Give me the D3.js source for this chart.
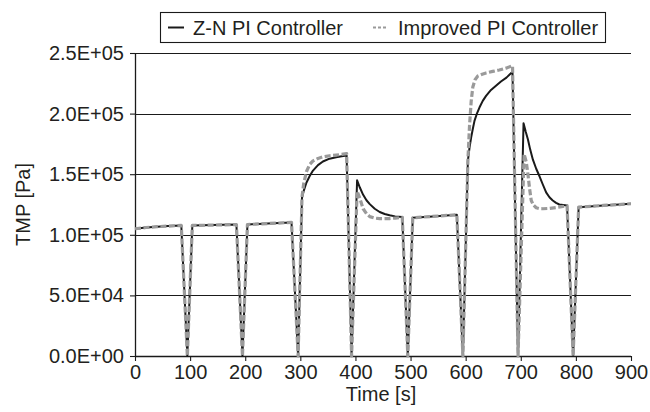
<!DOCTYPE html>
<html>
<head>
<meta charset="utf-8">
<script src="https://cdn.jsdelivr.net/npm/d3@7"></script>
<style>
  html, body { margin: 0; padding: 0; background: #fff; }
  svg { display: block; font-family: "Liberation Sans", Arial, sans-serif; }
</style>
</head>
<body>
<svg id="chart" width="650" height="412"></svg>
<script>
// Transmembrane pressure over time for two controller tunings.
// Each ~100 s filtration cycle ends with a short backwash where TMP falls to zero.

const seriesNames = ["Z-N PI Controller", "Improved PI Controller"];

const timeZN = [0, 20, 40, 60, 84, 95, 104, 140, 184, 195, 204, 240, 284, 296,
  303, 306, 311, 317, 323, 332, 341, 353, 365, 375, 384, 393,
  403, 408, 414, 420, 426, 435, 444, 453, 462, 472, 485, 495,
  504, 540, 584, 595,
  604, 607, 610, 613, 616, 620, 625, 631, 637, 646, 655, 664, 674, 685, 695,
  705, 709, 713, 717, 722, 728, 734, 740, 746, 752, 758, 764, 770, 784, 795,
  805, 850, 900];
const tmpZN = [105000, 106000, 106700, 107200, 107700, 0, 107700, 108000, 108500, 0, 108500, 109300, 110200, 0,
  130500, 136000, 143000, 148500, 153000, 157500, 160500, 162800, 164000, 164800, 165500, 0,
  145000, 139000, 133000, 128500, 125300, 121500, 118800, 117200, 116100, 115200, 114600, 0,
  114000, 115200, 116500, 0,
  161000, 172000, 180400, 187500, 194000, 199500, 205000, 210500, 214600, 219500, 223000, 226500, 229700, 234600, 0,
  192000, 185000, 178700, 170500, 162000, 154500, 148300, 141500, 135000, 131000, 128300, 126300, 125000, 124200, 0,
  122800, 124200, 125600];

const timeImp = [0, 20, 40, 60, 84, 95, 104, 140, 184, 195, 204, 240, 284, 296,
  303, 306, 311, 317, 323, 332, 341, 353, 365, 375, 384, 393,
  403, 408, 414, 420, 426, 435, 444, 462, 472, 485, 495,
  504, 540, 584, 595,
  604, 607, 610, 613, 617, 622, 630, 637, 649, 661, 673, 685, 695,
  706, 710, 713, 716, 719, 723, 728, 734, 740, 752, 764, 774, 784, 795,
  805, 850, 900];
const tmpImp = [105000, 106000, 106700, 107200, 107700, 0, 107700, 108000, 108500, 0, 108500, 109300, 110200, 0,
  131000, 142000, 152000, 158000, 161000, 163000, 164300, 165200, 165800, 166300, 167000, 0,
  136000, 130000, 121500, 117500, 115000, 113800, 113300, 113400, 113800, 114300, 0,
  114000, 115200, 116500, 0,
  161000, 190000, 210000, 222000, 228000, 231000, 232500, 233500, 234800, 236000, 237500, 239500, 0,
  166600, 160000, 150000, 138000, 128300, 124500, 122300, 121600, 121500, 121800, 122500, 123200, 124000, 0,
  122800, 124200, 125600];

const xTicks = [0, 100, 200, 300, 400, 500, 600, 700, 800, 900];
const yTicks = [0, 50000, 100000, 150000, 200000, 250000];
const yTickLabels = ["0.0E+00", "5.0E+04", "1.0E+05", "1.5E+05", "2.0E+05", "2.5E+05"];

const margin = { top: 53, right: 19, bottom: 56, left: 135 };
const W = 650, H = 412;
const innerW = W - margin.left - margin.right;
const innerH = H - margin.top - margin.bottom;
const textColor = "#231f20";
const lineColor = "#1a1a1a";
const fontSize = 20;

const svg = d3.select("#chart");
const g = svg.append("g").attr("transform", `translate(${margin.left},${margin.top})`);

const x = d3.scaleLinear().domain([0, 900]).range([0, innerW]);
const y = d3.scaleLinear().domain([0, 250000]).range([innerH, 0]);

// horizontal gridlines
g.append("g")
  .selectAll("line")
  .data(yTicks.filter(v => v > 0))
  .join("line")
  .attr("x1", 0).attr("x2", innerW)
  .attr("y1", d => Math.round(y(d)) + 0.5).attr("y2", d => Math.round(y(d)) + 0.5)
  .attr("stroke", lineColor).attr("stroke-width", 1.2);

// axes
const xAxis = g.append("g")
  .attr("transform", `translate(0,${innerH})`)
  .call(d3.axisBottom(x).tickValues(xTicks).tickSize(5).tickPadding(4).tickFormat(d3.format("d")));
const yAxis = g.append("g")
  .call(d3.axisLeft(y).tickValues(yTicks).tickSize(5).tickPadding(6)
    .tickFormat((d, i) => yTickLabels[i]));

[xAxis, yAxis].forEach(a => {
  a.select(".domain").attr("stroke", lineColor).attr("stroke-width", 1.3);
  a.selectAll(".tick line").attr("stroke", lineColor).attr("stroke-width", 1.1);
  a.selectAll(".tick text").attr("fill", textColor)
    .style("font-size", fontSize + "px").style("font-family", "'Liberation Sans', Arial, sans-serif");
});
xAxis.select(".domain").attr("d", `M0,0.5H${innerW}`);
yAxis.select(".domain").attr("d", `M0.5,0V${innerH}`);

// lines
const line = d3.line().x(d => x(d[0])).y(d => y(d[1])).curve(d3.curveLinear);
const znData = timeZN.map((t, i) => [t, tmpZN[i]]);
const impData = timeImp.map((t, i) => [t, tmpImp[i]]);

g.append("path").datum(znData)
  .attr("d", line).attr("fill", "none")
  .attr("stroke", lineColor).attr("stroke-width", 2).attr("stroke-linejoin", "round");
g.append("path").datum(impData)
  .attr("d", line).attr("fill", "none")
  .attr("stroke", "#9a9a9a").attr("stroke-width", 3.2)
  .attr("stroke-dasharray", "6,2.5").attr("stroke-linejoin", "round");

// axis titles
svg.append("text")
  .attr("x", 381).attr("y", 401)
  .attr("text-anchor", "middle").attr("fill", textColor)
  .style("font-size", fontSize + "px").text("Time [s]");
svg.append("text")
  .attr("transform", `translate(30,${margin.top + innerH / 2}) rotate(-90)`)
  .attr("text-anchor", "middle").attr("fill", textColor)
  .style("font-size", fontSize + "px").text("TMP [Pa]");

// legend
const leg = svg.append("g");
leg.append("rect")
  .attr("x", 160.5).attr("y", 12.5).attr("width", 445).attr("height", 30)
  .attr("fill", "#fff").attr("stroke", lineColor).attr("stroke-width", 1.1);
leg.append("line")
  .attr("x1", 168).attr("x2", 184).attr("y1", 27.5).attr("y2", 27.5)
  .attr("stroke", lineColor).attr("stroke-width", 2);
leg.append("text")
  .attr("x", 193).attr("y", 35).attr("fill", textColor)
  .style("font-size", fontSize + "px").text(seriesNames[0]);
leg.append("line")
  .attr("x1", 373).attr("x2", 387).attr("y1", 27.5).attr("y2", 27.5)
  .attr("stroke", "#9a9a9a").attr("stroke-width", 2.2).attr("stroke-dasharray", "3,2");
leg.append("text")
  .attr("x", 398).attr("y", 35).attr("fill", textColor)
  .style("font-size", fontSize + "px").text(seriesNames[1]);
</script>
</body>
</html>
